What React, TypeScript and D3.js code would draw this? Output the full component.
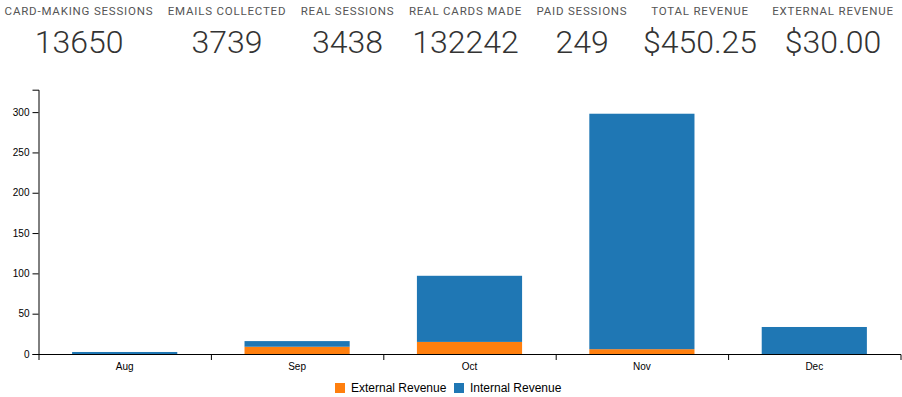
import React, { useEffect, useRef } from "react";
import * as d3 from "d3";

const statLabels = ["CARD-MAKING SESSIONS", "EMAILS COLLECTED", "REAL SESSIONS", "REAL CARDS MADE", "PAID SESSIONS", "TOTAL REVENUE", "EXTERNAL REVENUE"];
const statValues = ["13650", "3739", "3438", "132242", "249", "$450.25", "$30.00"];
const statCenters = [79, 227, 347.5, 465.5, 582, 700, 833];

const months = ["Aug", "Sep", "Oct", "Nov", "Dec"];
const externalRevenue = [0, 9, 15, 6, 0];
const internalRevenue = [2.5, 7, 82, 292, 33.5];
const seriesNames = ["External Revenue", "Internal Revenue"];
const seriesColors = ["#ff7f0e", "#1f77b4"];

export default function App() {
  const ref = useRef<SVGSVGElement>(null);

  useEffect(() => {
    const svg = d3.select(ref.current);
    svg.selectAll("*").remove();

    // header stats
    const hdr = svg.append("g");
    statLabels.forEach((l, i) => {
      hdr.append("text")
        .attr("x", statCenters[i]).attr("y", 15)
        .attr("text-anchor", "middle")
        .attr("font-family", "Roboto")
        .attr("font-size", 11.5)
        .attr("letter-spacing", "0.8px")
        .attr("fill", "#555")
        .text(l);
      hdr.append("text")
        .attr("x", statCenters[i]).attr("y", 53)
        .attr("text-anchor", "middle")
        .attr("font-family", "Roboto")
        .attr("font-weight", 300)
        .attr("font-size", 32)
        .attr("fill", "#333")
        .text(statValues[i]);
    });

    const left = 38.5, right = 900.5, bottom = 354, top = 89.7;
    const data = months.map((m, i) => ({ month: m, ext: externalRevenue[i], int: internalRevenue[i] }));
    const stack = d3.stack<any>().keys(["ext", "int"])(data);
    const maxTotal = d3.max(data, d => d.ext + d.int) as number;

    const x = d3.scaleBand().domain(months).range([left, right]).paddingInner(0.39).paddingOuter(0.195);
    const y = d3.scaleLinear().domain([0, maxTotal * 1.1]).range([bottom, top]);
    const xb = d3.scaleLinear().domain([0, months.length]).range([left, right]);

    const g = svg.append("g");
    stack.forEach((s, si) => {
      g.append("g").attr("fill", seriesColors[si])
        .selectAll("rect").data(s).join("rect")
        .attr("x", (d: any) => x(d.data.month) as number)
        .attr("width", x.bandwidth())
        .attr("y", (d: any) => y(d[1]))
        .attr("height", (d: any) => y(d[0]) - y(d[1]));
    });

    svg.append("g").attr("transform", `translate(${left},0)`)
      .call(d3.axisLeft(y).tickSizeOuter(6));

    const xa = svg.append("g").attr("transform", `translate(0,${bottom})`)
      .call(d3.axisBottom(xb).tickValues([1, 2, 3, 4]).tickFormat(() => "").tickSizeOuter(6));
    months.forEach((m) => {
      xa.append("text")
        .attr("x", (x(m) as number) + x.bandwidth() / 2)
        .attr("y", 9).attr("dy", "0.71em")
        .attr("text-anchor", "middle")
        .attr("fill", "#000")
        .attr("font-size", 10)
        .attr("font-family", "sans-serif")
        .text(m);
    });

    // legend
    const legX = [335, 454];
    seriesNames.forEach((n, i) => {
      svg.append("rect").attr("x", legX[i]).attr("y", 383).attr("width", 10).attr("height", 10).attr("fill", seriesColors[i]);
      svg.append("text").attr("x", legX[i] + 16).attr("y", 392)
        .attr("font-family", "sans-serif").attr("font-size", 12).attr("fill", "#000")
        .text(n);
    });
  }, []);

  return (
    <svg ref={ref} width={902} height={397} style={{ position: "absolute", left: 0, top: 0 }} />
  );
}
